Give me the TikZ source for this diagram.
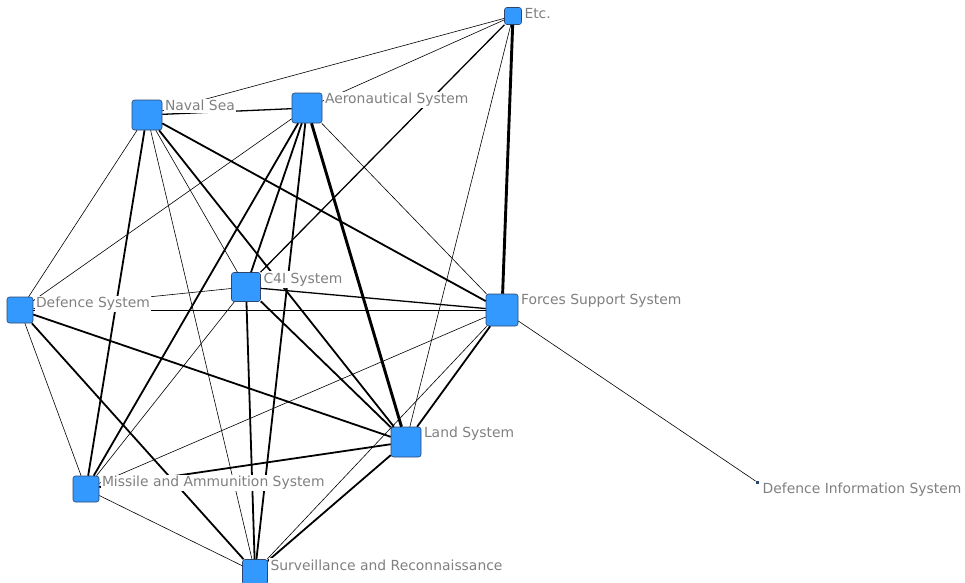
\documentclass[tikz,border=0pt]{standalone}
\usepackage{fontspec}
\setmainfont{DejaVu Sans}
\definecolor{sysblue}{RGB}{51,153,255}
\definecolor{sysedge}{RGB}{45,70,110}
\definecolor{lblgray}{RGB}{128,128,128}

\begin{document}
\begin{tikzpicture}[x=1pt, y=-1pt,
    sys/.style={draw=sysedge, line width=0.6pt, fill=sysblue, rounded corners=2.5pt,
        minimum size=#1, inner sep=0pt},
    lbl/.style={anchor=north west, fill=white, text=lblgray, inner sep=1.5pt,
        font=\fontsize{13.9}{16}\selectfont},
    thin/.style={line width=0.6pt},
    mid/.style={line width=1.3pt},
    thick/.style={line width=1.8pt},
    vthick/.style={line width=2.9pt}]
    \useasboundingbox (0,0) rectangle (965,582);

    % The systems
    \node[sys=17pt] (etcs) at (513,16) {};
    \node[sys=30pt] (naval) at (147,115) {};
    \node[sys=30pt] (aero) at (307,108) {};
    \node[sys=29pt] (c4i) at (246,287) {};
    \node[sys=26pt] (defence) at (20,310) {};
    \node[sys=32pt] (forces) at (502,310) {};
    \node[sys=30pt] (land) at (406,442) {};
    \node[sys=26pt] (missile) at (86,489) {};
    \node[sys=25pt] (surv) at (255,572) {};
    \node[draw=sysedge, fill=sysedge, minimum size=2.5pt, inner sep=0pt] (dis) at (757,482) {};

    % Links from Etc.
    \draw[thin] (etcs) -- (naval);
    \draw[thin] (etcs) -- (aero);
    \draw[mid] (etcs) -- (c4i);
    \draw[thin] (etcs) -- (land);
    \draw[vthick] (etcs) -- (forces);

    % Links from Naval Sea and Aeronautical System
    \draw[mid] (naval) -- (aero);
    \draw[thin] (naval) -- (defence);
    \draw[thick] (naval) -- (missile);
    \draw[thin] (naval) -- (surv);
    \draw[thin] (naval) -- (c4i);
    \draw[thick] (naval) -- (land);
    \draw[thick] (naval) -- (forces);
    \draw[thin] (aero) -- (defence);
    \draw[thick] (aero) -- (missile);
    \draw[thick] (aero) -- (c4i);
    \draw[thick] (aero) -- (surv);
    \draw[vthick] (aero) -- (land);
    \draw[thin] (aero) -- (forces);

    % Links from C4I System and Defence System
    \draw[thin] (c4i) -- (defence);
    \draw[mid] (c4i) -- (forces);
    \draw[thick] (c4i) -- (land);
    \draw[thick] (c4i) -- (surv);
    \draw[thin] (c4i) -- (missile);
    \draw[thin] (defence) -- (forces);
    \draw[thick] (defence) -- (land);
    \draw[thin] (defence) -- (missile);
    \draw[thick] (defence) -- (surv);

    % The rest
    \draw[thick] (forces) -- (land);
    \draw[thin] (forces) -- (surv);
    \draw[thin] (forces) -- (missile);
    \draw[thin] (forces) -- (dis);
    \draw[thick] (land) -- (missile);
    \draw[thick] (land) -- (surv);
    \draw[thin] (missile) -- (surv);

    % Labels
    \node[lbl] at ([xshift=1pt,yshift=1pt]etcs.north east) {Etc.};
    \node[lbl] at ([xshift=1pt,yshift=1pt]naval.north east) {Naval Sea};
    \node[lbl] at ([xshift=1pt,yshift=1pt]aero.north east) {Aeronautical System};
    \node[lbl] at ([xshift=1pt,yshift=1pt]c4i.north east) {C4I System};
    \node[lbl] at ([xshift=1pt,yshift=1pt]defence.north east) {Defence System};
    \node[lbl] at ([xshift=1pt,yshift=1pt]forces.north east) {Forces Support System};
    \node[lbl] at ([xshift=1pt,yshift=1pt]land.north east) {Land System};
    \node[lbl] at ([xshift=1pt,yshift=1pt]missile.north east) {Missile and Ammunition System};
    \node[lbl] at ([xshift=1pt,yshift=1pt]surv.north east) {Surveillance and Reconnaissance};
    \node[lbl] at ([xshift=2.5pt,yshift=-1pt]dis.north east) {Defence Information System};
\end{tikzpicture}
\end{document}
